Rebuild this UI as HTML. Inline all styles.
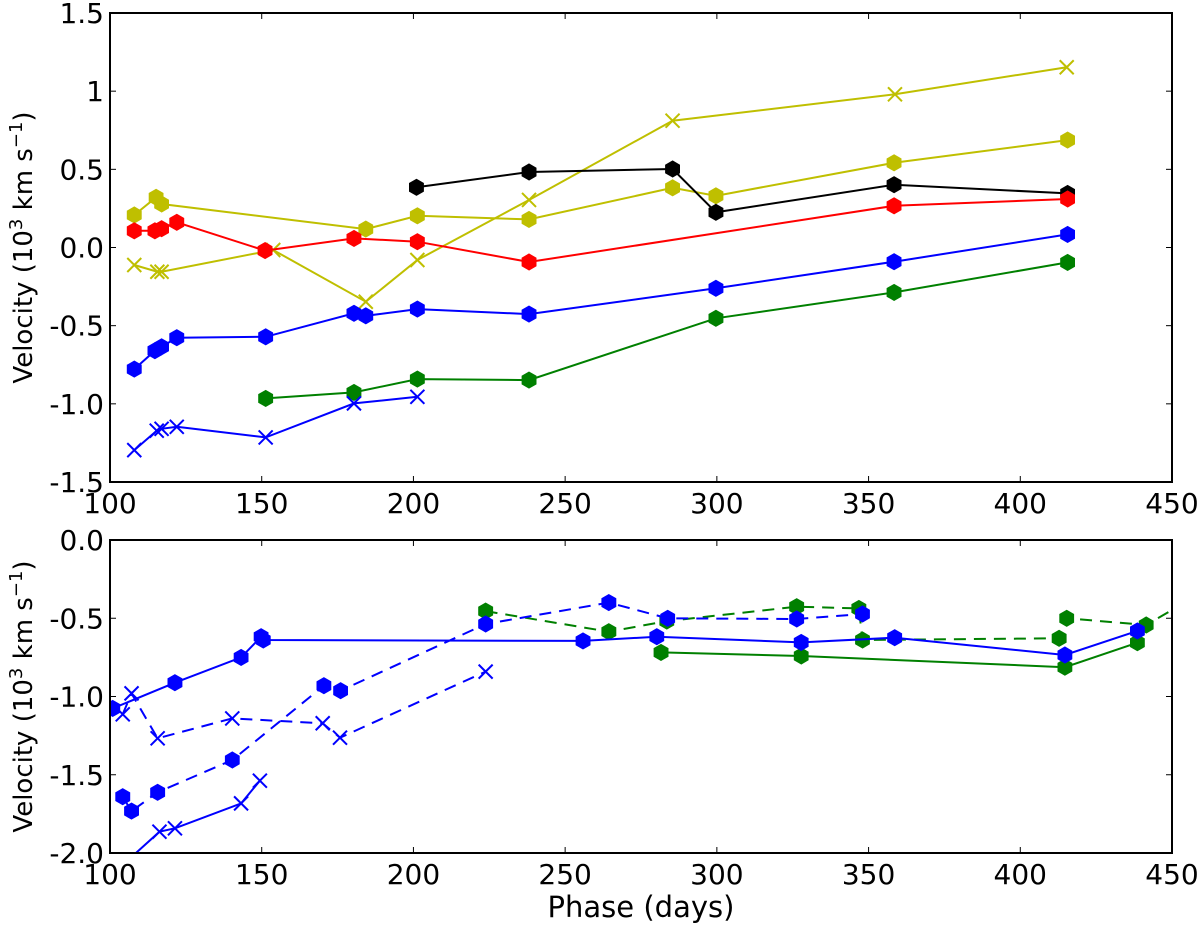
<!DOCTYPE html>
<html><head><meta charset="utf-8"><style>
body{margin:0;background:#fff}
svg text{font-family:"DejaVu Sans","Liberation Sans",sans-serif;fill:#000}
</style></head><body>
<svg id="chart" width="1200" height="925" viewBox="0 0 1200 925" xmlns="http://www.w3.org/2000/svg"></svg>
<script>
const xTicks=[100,150,200,250,300,350,400,450];
const topYTicks=[1.5,1,0.5,0,-0.5,-1,-1.5];
const topYLabels=["1.5","1","0.5","0.0","-0.5","-1.0","-1.5"];
const botYTicks=[0,-0.5,-1,-1.5,-2];
const botYLabels=["0.0","-0.5","-1.0","-1.5","-2.0"];

// top panel series
const tYellowHexX=[108,115.2,117,184.3,201.3,238.1,285.4,299.7,358.4,415.6];
const tYellowHexY=[0.208,0.321,0.278,0.118,0.203,0.180,0.382,0.331,0.542,0.687];
const tYellowXX=[108,115.6,117,153.8,184.3,201.3,238.1,285.4,358.7,415.3];
const tYellowXY=[-0.112,-0.155,-0.155,-0.016,-0.347,-0.080,0.304,0.811,0.98,1.153];
const tBlackX=[201,238.1,285.4,299.7,358.4,415.6];
const tBlackY=[0.385,0.483,0.502,0.225,0.402,0.346];
const tRedX=[108,114.8,117,122,151.1,180.4,201.3,238.1,358.4,415.6];
const tRedY=[0.107,0.107,0.12,0.161,-0.02,0.058,0.037,-0.093,0.267,0.31];
const tBlueX=[108,114.8,117,122,151.3,180.4,184.3,201.3,238.1,299.7,358.4,415.6];
const tBlueY=[-0.778,-0.66,-0.635,-0.577,-0.571,-0.421,-0.437,-0.394,-0.426,-0.261,-0.091,0.084];
const tGreenX=[151.3,180.4,201.3,238.1,299.7,358.4,415.6];
const tGreenY=[-0.965,-0.927,-0.842,-0.848,-0.453,-0.287,-0.095];
const tBlueCrossX=[108,115.4,117,122,151.3,180.4,201.3];
const tBlueCrossY=[-1.296,-1.172,-1.16,-1.147,-1.215,-0.997,-0.955];

// bottom panel series
const bBlueSolidX=[100.9,121.4,143.2,149.8,150.5,255.9,280.2,327.8,358.6,414.7,438.6];
const bBlueSolidY=[-1.076,-0.912,-0.75,-0.618,-0.639,-0.645,-0.618,-0.654,-0.624,-0.735,-0.581];
const bBlueDashX=[104.2,107.1,115.7,140.3,170.5,176,223.8,264.4,283.8,326.3,348];
const bBlueDashY=[-1.64,-1.732,-1.612,-1.406,-0.931,-0.963,-0.537,-0.40,-0.50,-0.505,-0.473];
const bGreenDashX=[223.8,264.4,283.5,326.3,346.8,348,412.8,415.3,441.5,456];
const bGreenDashY=[-0.454,-0.586,-0.518,-0.426,-0.437,-0.639,-0.628,-0.50,-0.543,-0.38];
const bGreenSolidX=[281.6,327.8,414.7,438.6];
const bGreenSolidY=[-0.718,-0.741,-0.813,-0.656];
const bBlueCrossSolidX=[104,116.3,121.4,143.2,149.4];
const bBlueCrossSolidY=[-2.08,-1.864,-1.842,-1.683,-1.538];
const bBlueCrossDashX=[104.2,107.1,115.7,140.3,170.1,175.8,223.8];
const bBlueCrossDashY=[-1.114,-0.98,-1.267,-1.14,-1.171,-1.263,-0.841];

const NS="http://www.w3.org/2000/svg";
const svg=document.getElementById('chart');
function mk(tag,attrs,parent){const e=document.createElementNS(NS,tag);for(const k in attrs)e.setAttribute(k,attrs[k]);(parent||svg).appendChild(e);return e;}

const L=110,R=1172;
function xs(v){return L+(v-100)/350*(R-L);}
const panels=[
 {name:'top',top:13,bot:482,y0:1.5,y1:-1.5,yt:topYTicks,yl:topYLabels},
 {name:'bottom',top:540,bot:853,y0:0,y1:-2,yt:botYTicks,yl:botYLabels}
];
function ysF(p){return v=>p.top+(p.y0-v)/(p.y0-p.y1)*(p.bot-p.top);}

function hex(g,cx,cy,r,color){
  let pts=[];for(let i=0;i<6;i++){const a=Math.PI/2+i*Math.PI/3;pts.push((cx+r*Math.cos(a)).toFixed(1)+','+(cy+r*Math.sin(a)).toFixed(1));}
  const e=mk('polygon',{points:pts.join(' '),fill:color,stroke:color,'stroke-width':1},g);
  
  
}
function cross(g,cx,cy,r,color){
  const e=mk('path',{d:`M${cx-r},${cy-r}L${cx+r},${cy+r}M${cx-r},${cy+r}L${cx+r},${cy-r}`,stroke:color,'stroke-width':2,fill:'none'},g);
  
  
}
function series(p,name,X,Y,color,marker,dash){
  const ys=ysF(p);
  const g=mk('g',{'clip-path':'url(#clip-'+p.name+')'});
  
  
  const d=X.map((x,i)=>(i?'L':'M')+xs(x).toFixed(1)+','+ys(Y[i]).toFixed(1)).join('');
  const a={d:d,stroke:color,'stroke-width':2,fill:'none'};if(dash)a['stroke-dasharray']='12,8';
  const ln=mk('path',a,g);
  
  
  X.forEach((x,i)=>{if(marker==='hex')hex(g,xs(x),ys(Y[i]),8,color);else cross(g,xs(x),ys(Y[i]),7,color);});
}

const defs=mk('defs',{});
panels.forEach(p=>{
  const c=mk('clipPath',{id:'clip-'+p.name},defs);
  mk('rect',{x:L,y:p.top,width:R-L,height:p.bot-p.top},c);
});

const Y='#bfbf00',B='#0000ff',G='#008000',Rd='#ff0000',K='#000000';
const P0=panels[0],P1=panels[1];
series(P0,'top-yellow-x',tYellowXX,tYellowXY,Y,'x');
series(P0,'top-yellow-hex',tYellowHexX,tYellowHexY,Y,'hex');
series(P0,'top-black-hex',tBlackX,tBlackY,K,'hex');
series(P0,'top-red-hex',tRedX,tRedY,Rd,'hex');
series(P0,'top-blue-hex',tBlueX,tBlueY,B,'hex');
series(P0,'top-green-hex',tGreenX,tGreenY,G,'hex');
series(P0,'top-blue-x',tBlueCrossX,tBlueCrossY,B,'x');

series(P1,'bottom-green-dashed',bGreenDashX,bGreenDashY,G,'hex',true);
series(P1,'bottom-green-solid',bGreenSolidX,bGreenSolidY,G,'hex');
series(P1,'bottom-blue-dashed',bBlueDashX,bBlueDashY,B,'hex',true);
series(P1,'bottom-blue-solid',bBlueSolidX,bBlueSolidY,B,'hex');
series(P1,'bottom-blue-x-dashed',bBlueCrossDashX,bBlueCrossDashY,B,'x',true);
series(P1,'bottom-blue-x-solid',bBlueCrossSolidX,bBlueCrossSolidY,B,'x');

panels.forEach(p=>{
  const ys=ysF(p);
  const ax=mk('g',{});
  
  
  mk('rect',{x:L,y:p.top,width:R-L,height:p.bot-p.top,fill:'none',stroke:'#000','stroke-width':2},ax);
  xTicks.forEach(t=>{
    const x=xs(t);
    mk('line',{x1:x,y1:p.bot,x2:x,y2:p.bot-6,stroke:'#000','stroke-width':1},ax);
    mk('line',{x1:x,y1:p.top,x2:x,y2:p.top+6,stroke:'#000','stroke-width':1},ax);
    const tx=mk('text',{x:x,y:p.bot+31,'font-size':28,'text-anchor':'middle'},ax);
    tx.textContent=String(t);
    
    
  });
  p.yt.forEach((t,i)=>{
    const y=ys(t);
    mk('line',{x1:L,y1:y,x2:L+6,y2:y,stroke:'#000','stroke-width':1},ax);
    mk('line',{x1:R,y1:y,x2:R-6,y2:y,stroke:'#000','stroke-width':1},ax);
    const tx=mk('text',{x:L-6,y:y+10,'font-size':28,'text-anchor':'end'},ax);
    tx.textContent=p.yl[i];
    
    
  });
  const cy=(p.top+p.bot)/2;
  const yl=mk('text',{x:0,y:0,'font-size':26,'text-anchor':'middle',transform:`translate(32,${cy}) rotate(-90)`},ax);
  yl.innerHTML='Velocity (10<tspan dy="-10" font-size="18">3</tspan><tspan dy="10"> km s</tspan><tspan dy="-10" font-size="18">−1</tspan><tspan dy="10">)</tspan>';
  
  
});
const xl=mk('text',{x:641,y:917,'font-size':29,'text-anchor':'middle'});
xl.textContent='Phase (days)';


</script>
</body></html>
